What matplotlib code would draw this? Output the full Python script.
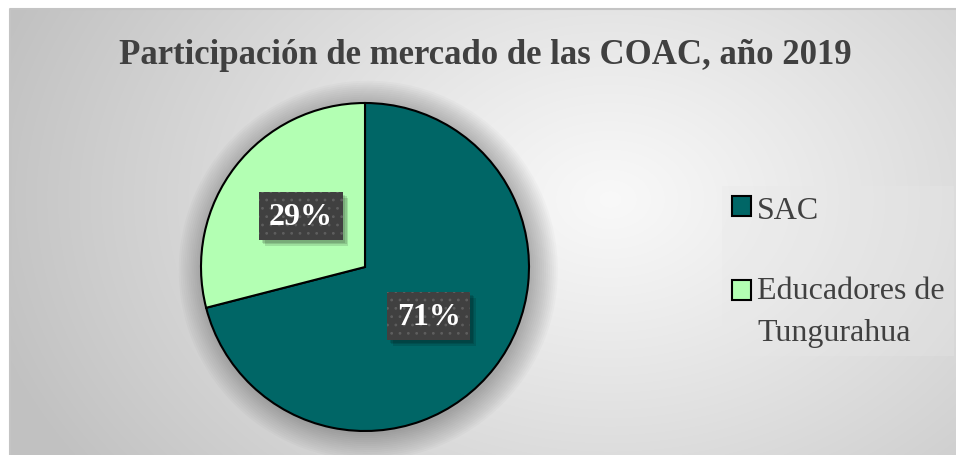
import numpy as np
import matplotlib
matplotlib.use("Agg")
import matplotlib.pyplot as plt
from matplotlib.patches import Circle, Rectangle
from matplotlib.legend_handler import HandlerPatch
from matplotlib.transforms import IdentityTransform

# ---- data ----
categories = ["SAC", "Educadores de\nTungurahua"]
shares = [71, 29]
colors = ["#006666", "#b3ffb3"]
title = "Participación de mercado de las COAC, año 2019"

plt.rcParams['font.family'] = ['Liberation Serif', 'DejaVu Serif']
plt.rcParams['hatch.color'] = '#5e5e5e'
plt.rcParams['hatch.linewidth'] = 0.8

W, H = 956, 456
fig = plt.figure(figsize=(W / 100, H / 100), dpi=100)
fig.patch.set_facecolor('white')

# ---- background gradient frame ----
bg = fig.add_axes([10 / W, 0, 1 - 10 / W, 1 - 10 / H])
bg.set_axis_off()
ny, nx = 446, 946
yy, xx = np.mgrid[0:ny, 0:nx]
cx, cy = 610 - 10, 200 - 10
d = np.sqrt(((xx - cx) / 640.0) ** 2 + ((yy - cy) / 470.0) ** 2)
v = 0.975 - 0.215 * np.clip(d, 0, 1) ** 1.1
img = np.dstack([v, v, v])
bg.imshow(img, extent=[0, 1, 0, 1], aspect='auto', origin='upper')
bg.set_xlim(0, 1)
bg.set_ylim(0, 1)
bg.plot([0, 0, 1], [0, 1, 1], transform=bg.transAxes, color='#c4c4c4',
        lw=1.5, clip_on=False)

# ---- pie ----
pcx, pcy, r = 365, 268, 164
ax = fig.add_axes([(pcx - r) / W, 1 - (pcy + r) / H, 2 * r / W, 2 * r / H])
ax.set_axis_off()
ax.patch.set_alpha(0)

# soft shadow
for k in range(14):
    ax.add_patch(Circle((0.02, -0.02), 1.0 + 0.012 * k, color='black',
                        alpha=0.018, lw=0, clip_on=False, zorder=0))

wedges, _ = ax.pie(shares, colors=colors, startangle=90, counterclock=False,
                   radius=1.0, wedgeprops=dict(edgecolor='black', linewidth=1.5),
                   frame=False)
for w in wedges:
    w.set_zorder(2)
ax.set_xlim(-1, 1)
ax.set_ylim(-1, 1)
ax.set_aspect('equal')

# labels
label_pos = [(0.39, -0.30), (-0.39, 0.31)]
label_texts = []
for val, (lx, ly) in zip(shares, label_pos):
    t = ax.text(lx, ly, f"{val}%", ha='center', va='center', color='white',
                fontsize=23, fontweight='bold', zorder=5,
                bbox=dict(boxstyle='square,pad=0.3', fc='#404040', ec='#5e5e5e',
                          lw=0, hatch='..'))
    label_texts.append(t)

# ---- title ----
fig.text(485 / W, 1 - 55 / H, title, ha='center', va='center', fontsize=25,
         fontweight='bold', color='#404040')


# ---- legend ----
def make_handle(legend, orig_handle, xdescent, ydescent, width, height, fontsize):
    lines = legend_lines.get(id(orig_handle), 1)
    shift = (lines - 1) * 15.1
    return Rectangle((-xdescent, -ydescent + shift), width, height)


legend_lines = {id(w): lab.count("\n") + 1 for w, lab in zip(wedges, categories)}

leg = fig.legend(wedges, categories, loc='upper left',
                 bbox_to_anchor=(706 / W, 1 - 171 / H), frameon=True,
                 fontsize=23, labelcolor='#404040', handlelength=0.6,
                 handleheight=0.6, handletextpad=0.2, labelspacing=1.6,
                 borderpad=0.3, fancybox=False,
                 handler_map={type(wedges[0]): HandlerPatch(patch_func=make_handle)})
leg.get_frame().set_facecolor('#e8e8e8')
leg.get_frame().set_alpha(0.3)
leg.get_frame().set_linewidth(0)
for t in leg.get_texts():
    t.set_linespacing(1.6)
for h in leg.legend_handles:
    h.set_linewidth(1.5)
    h.set_edgecolor('black')

# soft shadows under the label boxes (derived from their rendered extents)
fig.canvas.draw()
renderer = fig.canvas.get_renderer()
for t in label_texts:
    bb = t.get_bbox_patch().get_window_extent(renderer)
    for off in (2.5, 4.0, 5.5):
        ax.add_patch(Rectangle((bb.x0 + off, bb.y0 - off), bb.width, bb.height,
                               transform=IdentityTransform(), fc='black',
                               alpha=0.12, lw=0, zorder=4, clip_on=False))

fig.savefig("out.png", dpi=100)
